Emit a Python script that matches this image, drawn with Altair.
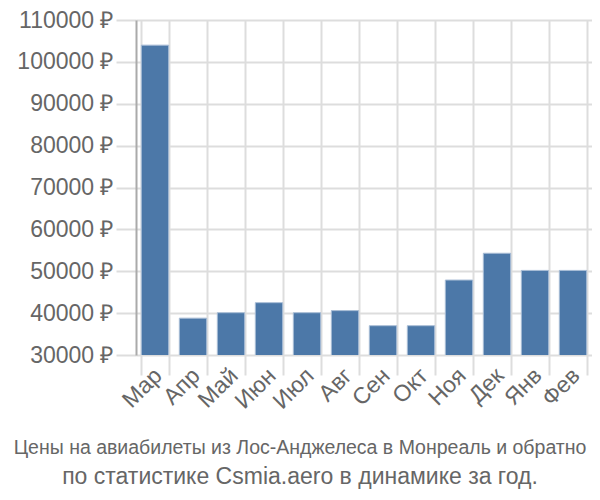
import altair as alt
import pandas as pd

months = ["Мар", "Апр", "Май", "Июн", "Июл", "Авг", "Сен", "Окт", "Ноя", "Дек", "Янв", "Фев"]
prices = [104000, 38800, 40100, 42500, 40100, 40600, 37000, 37000, 47900, 54300, 50200, 50200]
title_line1 = "Цены на авиабилеты из Лос-Анджелеса в Монреаль и обратно"
title_line2 = "по статистике Csmia.aero в динамике за год."

df = pd.DataFrame({"month": months, "price": prices})

chart = alt.Chart(df).mark_bar(color="#4c78a8", stroke="#a9bdd6", strokeWidth=1, clip=True).encode(
    x=alt.X("month:N", sort=months, title=None,
            scale=alt.Scale(paddingInner=0.28, paddingOuter=0.14),
            axis=alt.Axis(labelAngle=315, labelFontSize=23, labelColor="#666666",
                          labelFont="Liberation Sans", tickBand="extent", grid=True,
                          gridColor="#dddddd", tickColor="#dddddd", tickSize=20,
                          tickWidth=2, gridWidth=2, labelOffset=-5,
                          domain=False, labelPadding=-11)),
    y=alt.Y("price:Q", title=None,
            scale=alt.Scale(domain=[30000, 110000], zero=False, nice=False),
            axis=alt.Axis(values=list(range(30000, 110001, 10000)),
                          labelExpr="datum.value + ' ₽'", labelFontSize=23,
                          labelColor="#666666", labelFont="Liberation Sans",
                          gridColor="#dddddd", gridWidth=2, tickColor="#dddddd",
                          tickSize=20, tickWidth=2, domainColor="#aaaaaa",
                          domainWidth=2, labelPadding=3)),
).properties(
    width=456, height=335,
    padding={"left": 128, "top": 12, "right": 0, "bottom": 136},
    autosize=alt.AutoSizeParams(type="none"),
    title=alt.TitleParams(
        text=title_line1, subtitle=title_line2, orient="bottom", anchor="middle",
        font="Liberation Sans", fontSize=19.5, fontWeight="normal", color="#666666",
        subtitleFont="Liberation Sans", subtitleFontSize=23, subtitleColor="#666666",
        subtitlePadding=7, offset=26, dx=-64,
    ),
).configure_view(stroke=None)

chart.save("out.html", embed_options={"renderer": "svg", "actions": False})
